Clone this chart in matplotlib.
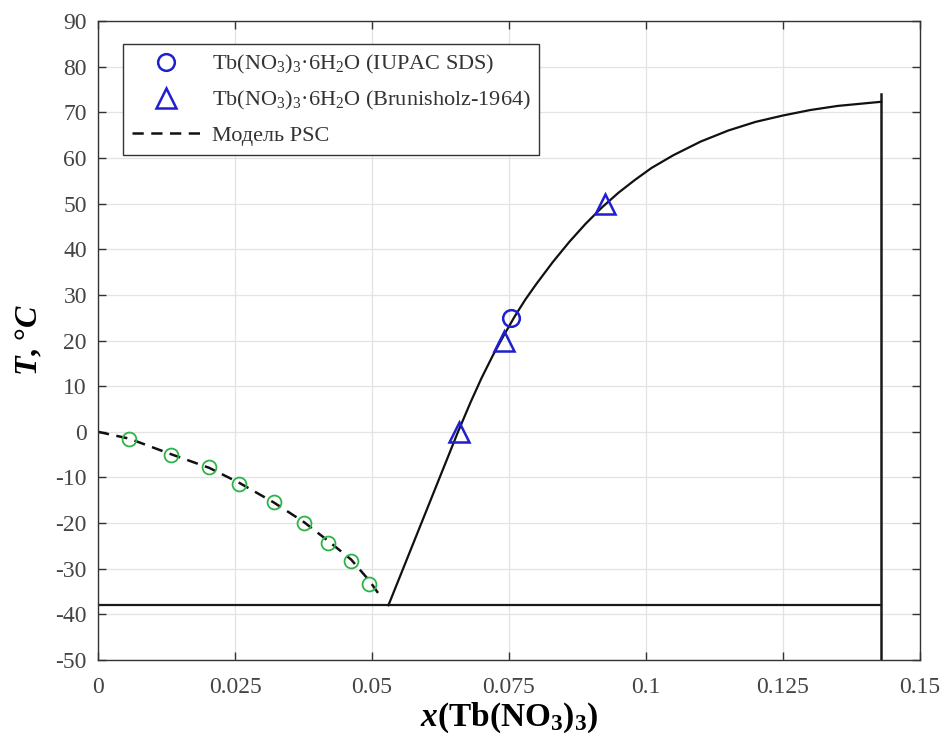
import matplotlib
matplotlib.use("Agg")
import matplotlib.pyplot as plt
import numpy as np

plt.rcParams['font.family'] = ['Liberation Serif', 'DejaVu Serif']
plt.rcParams['mathtext.fontset'] = 'custom'
plt.rcParams['mathtext.rm'] = 'Liberation Serif'
plt.rcParams['mathtext.it'] = 'Liberation Serif:italic:bold'
plt.rcParams['mathtext.bf'] = 'Liberation Serif:bold'
plt.rcParams['axes.unicode_minus'] = False

# experimental ice points (green circles)
ice_x = [0.0057, 0.0133, 0.0203, 0.0258, 0.0321, 0.0376, 0.0420, 0.0462, 0.0495]
ice_t = [-1.6, -5.1, -7.8, -11.4, -15.4, -20.0, -24.3, -28.2, -33.4]

# PSC model, ice branch
psc_x = [0.0, 0.0057, 0.0133, 0.0203, 0.0258, 0.0321, 0.0376, 0.0420, 0.0462, 0.0495, 0.0511]
psc_t = [0.0, -1.5, -4.9, -7.9, -11.2, -15.5, -19.8, -23.9, -28.0, -32.6, -35.3]

# hexahydrate liquidus
liq_x = [0.0530, 0.0657, 0.0680, 0.0700, 0.0720, 0.0740, 0.0760, 0.0780, 0.0800,
         0.0830, 0.0860, 0.0890, 0.0920, 0.0950, 0.0980, 0.1010, 0.1050, 0.1100,
         0.1150, 0.1200, 0.1250, 0.1300, 0.1350, 0.1429]
liq_t = [-38.0, 0.0, 6.5, 11.8, 16.6, 21.0, 25.2, 29.0, 32.4,
         37.2, 41.6, 45.6, 49.2, 52.4, 55.2, 57.8, 60.6, 63.6,
         66.0, 67.9, 69.3, 70.5, 71.4, 72.3]

# IUPAC SDS and Brunisholz-1964 data
iupac_x = [0.0754]
iupac_t = [25]
brun_x = [0.0658, 0.0741, 0.0926]
brun_t = [0, 20, 50]

eut_t = -38.0
hyd_x = 1 / 7
hyd_top = 74.0

fig = plt.figure(figsize=(9.46, 7.53), dpi=100)
ax = fig.add_axes([0.1036, 0.1235, 0.8689, 0.8486])

ax.plot([0, hyd_x], [eut_t, eut_t], color='#1a1a1a', lw=1.6)
ax.plot([hyd_x, hyd_x], [-50, hyd_top], color='#1a1a1a', lw=1.8)
ax.plot(liq_x, liq_t, color='#111111', lw=1.6)

ax.plot(iupac_x, iupac_t, 'o', ms=12, mfc='none', mec='#1f1fd0', mew=1.8,
        label=r'Tb(NO$_3$)$_3$·6H$_2$O (IUPAC SDS)')
ax.plot(brun_x, brun_t, '^', ms=14, mfc='none', mec='#1f1fd0', mew=1.8,
        label=r'Tb(NO$_3$)$_3$·6H$_2$O (Brunisholz-1964)')
ax.plot(psc_x, psc_t, '--', color='#111111', lw=1.8, dashes=(4.5, 3), label='Модель PSC')
ax.plot(ice_x, ice_t, 'o', ms=10, mfc='none', mec='#2cb44a', mew=1.3)

ax.set_xlim(0, 0.15)
ax.set_ylim(-50, 90)
ax.set_xticks([0, 0.025, 0.05, 0.075, 0.1, 0.125, 0.15])
ax.set_xticklabels(['0', '0.025', '0.05', '0.075', '0.1', '0.125', '0.15'])
ax.set_yticks(np.arange(-50, 91, 10))
ax.grid(True, color='#e3e3e3', lw=0.9)
ax.set_axisbelow(True)
ax.tick_params(direction='in', length=6, width=1, colors='#333333', labelsize=17,
               top=True, right=True, labelcolor='#444444')
ax.tick_params(axis='x', pad=12)
ax.tick_params(axis='y', pad=8)
for s in ax.spines.values():
    s.set_color('#333333')
    s.set_linewidth(1.0)

ax.set_xlabel(r'$\mathit{x}$(Tb(NO$_{\mathbf{3}}$)$_{\mathbf{3}}$)', fontsize=24,
              fontweight='bold', labelpad=2)
ax.set_ylabel(r'$\mathit{T}$, °$\mathit{C}$', fontsize=23, fontweight='bold', labelpad=8)

leg = ax.legend(loc='upper left', bbox_to_anchor=(0.03, 0.964), borderaxespad=0,
                fontsize=16, fancybox=False, edgecolor='#333333', framealpha=1,
                handlelength=3.1, handletextpad=0.5, labelspacing=0.6, borderpad=0.4)
leg.get_frame().set_linewidth(1.0)
for t in leg.get_texts():
    t.set_color('#333333')

fig.savefig('out.png', dpi=100)
